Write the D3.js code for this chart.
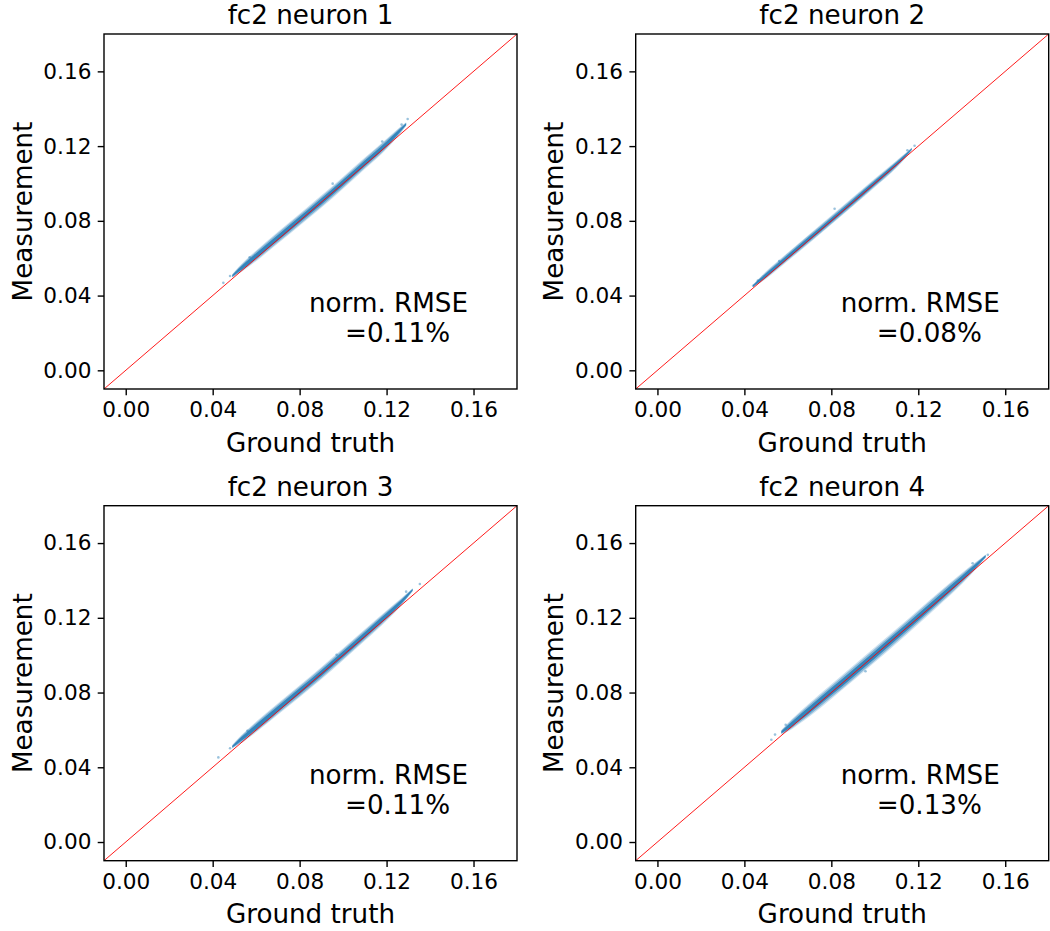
<!DOCTYPE html>
<html>
<head>
<meta charset="utf-8">
<script src="https://cdn.jsdelivr.net/npm/d3@7"></script>
<style>
  body { margin: 0; background: #fff; }
  svg { display: block; font-family: "DejaVu Sans", sans-serif; }
</style>
</head>
<body>
<script>
// titles and annotation
var titles = ["fc2 neuron 1", "fc2 neuron 2", "fc2 neuron 3", "fc2 neuron 4"];
var rmseText = ["=0.11%", "=0.08%", "=0.11%", "=0.13%"];
var ticks = [0, 0.04, 0.08, 0.12, 0.16];

var gt1 = [0.049, 0.052, 0.055, 0.060, 0.070, 0.080, 0.090, 0.100, 0.110, 0.120, 0.125, 0.129];
var mid1 = [0.0505, 0.0536, 0.0565, 0.0613, 0.0710, 0.0806, 0.0903, 0.1004, 0.1108, 0.1212, 0.1270, 0.1318];
var spread1 = [0.0008, 0.0016, 0.0021, 0.0025, 0.0027, 0.0028, 0.0029, 0.0028, 0.0027, 0.0024, 0.0018, 0.0008];

var gt2 = [0.044, 0.047, 0.050, 0.060, 0.070, 0.080, 0.090, 0.100, 0.110, 0.114, 0.117];
var mid2 = [0.0452, 0.0481, 0.0510, 0.0608, 0.0706, 0.0804, 0.0903, 0.1003, 0.1104, 0.1148, 0.1185];
var spread2 = [0.0007, 0.0013, 0.0017, 0.0020, 0.0021, 0.0021, 0.0021, 0.0020, 0.0017, 0.0012, 0.0006];

var gt3 = [0.049, 0.052, 0.055, 0.060, 0.070, 0.080, 0.090, 0.100, 0.110, 0.120, 0.127, 0.132];
var mid3 = [0.0510, 0.0540, 0.0568, 0.0616, 0.0712, 0.0807, 0.0904, 0.1005, 0.1108, 0.1212, 0.1288, 0.1350];
var spread3 = [0.0008, 0.0016, 0.0021, 0.0025, 0.0027, 0.0028, 0.0029, 0.0028, 0.0027, 0.0024, 0.0017, 0.0007];

var gt4 = [0.057, 0.060, 0.065, 0.070, 0.080, 0.090, 0.100, 0.110, 0.120, 0.130, 0.140, 0.146, 0.151];
var mid4 = [0.0588, 0.0614, 0.0661, 0.0708, 0.0805, 0.0903, 0.1002, 0.1102, 0.1204, 0.1307, 0.1410, 0.1474, 0.1530];
var spread4 = [0.0010, 0.0020, 0.0027, 0.0031, 0.0034, 0.0035, 0.0035, 0.0034, 0.0033, 0.0031, 0.0026, 0.0018, 0.0008];

// stray points outside the dense cloud
var strayGt1 = [0.0449, 0.0480, 0.0570, 0.0952, 0.1180, 0.1269, 0.1297];
var strayMeas1 = [0.0468, 0.0505, 0.0605, 0.0999, 0.1225, 0.1315, 0.1345];
var strayGt2 = [0.0440, 0.0462, 0.0560, 0.0815, 0.1150, 0.1183];
var strayMeas2 = [0.0453, 0.0480, 0.0585, 0.0865, 0.1178, 0.1202];
var strayGt3 = [0.0426, 0.0480, 0.0560, 0.0970, 0.1290, 0.1353];
var strayMeas3 = [0.0453, 0.0502, 0.0595, 0.1002, 0.1340, 0.1381];
var strayGt4 = [0.0524, 0.0541, 0.0590, 0.0957, 0.1450, 0.1520];
var strayMeas4 = [0.0547, 0.0575, 0.0628, 0.0914, 0.1492, 0.1537];

var bands = [[gt1, mid1, spread1], [gt2, mid2, spread2], [gt3, mid3, spread3], [gt4, mid4, spread4]];
var strays = [[strayGt1, strayMeas1], [strayGt2, strayMeas2], [strayGt3, strayMeas3], [strayGt4, strayMeas4]];

var width = 1050, height = 931;
var W = 413, H = 355;
var lefts = [104, 635.7], tops = [34, 505.7];
var BLUE = "#1f77b4";

var svg = d3.select("body").append("svg")
  .attr("width", width)
  .attr("height", height);

var x = d3.scaleLinear().domain([-0.01, 0.18]).range([0, W]);
var y = d3.scaleLinear().domain([-0.01, 0.18]).range([H, 0]);

titles.forEach(function(title, i){
  var g = svg.append("g")
    .attr("transform", "translate(" + lefts[i % 2] + "," + tops[Math.floor(i / 2)] + ")");

  g.append("clipPath").attr("id", "clip" + i)
    .append("rect").attr("width", W).attr("height", H);

  var plot = g.append("g").attr("clip-path", "url(#clip" + i + ")");

  var b = bands[i];
  var rows = b[0].map(function(v, k){ return { gt: v, m: b[1][k], s: b[2][k] }; });

  // cloud as layered envelopes, outer ones lighter
  [[1.15, 0.22], [0.9, 0.4], [0.55, 0.8]].forEach(function(layer){
    var area = d3.area()
      .x(function(d){ return x(d.gt); })
      .y0(function(d){ return y(d.m - d.s * layer[0]); })
      .y1(function(d){ return y(d.m + d.s * layer[0]); })
      .curve(d3.curveMonotoneX);
    plot.append("path")
      .attr("d", area(rows))
      .attr("fill", BLUE)
      .attr("fill-opacity", layer[1]);
  });

  var st = strays[i];
  plot.selectAll("circle.stray").data(st[0]).enter().append("circle")
    .attr("class", "stray")
    .attr("cx", function(d){ return x(d); })
    .attr("cy", function(d, k){ return y(st[1][k]); })
    .attr("r", 1.3)
    .attr("fill", BLUE)
    .attr("fill-opacity", 0.45);

  // identity line
  plot.append("line")
    .attr("x1", x(-0.01)).attr("y1", y(-0.01))
    .attr("x2", x(0.18)).attr("y2", y(0.18))
    .attr("stroke", "#ff0000")
    .attr("stroke-width", 0.9);

  var xAxis = d3.axisBottom(x).tickValues(ticks).tickFormat(d3.format(".2f"))
    .tickSize(6.3).tickPadding(6.3).tickSizeOuter(0);
  var yAxis = d3.axisLeft(y).tickValues(ticks).tickFormat(d3.format(".2f"))
    .tickSize(6.3).tickPadding(6.3).tickSizeOuter(0);

  var gx = g.append("g").attr("transform", "translate(0," + H + ")").call(xAxis);
  var gy = g.append("g").call(yAxis);
  [gx, gy].forEach(function(a){
    a.select(".domain").remove();
    a.selectAll(".tick line").attr("stroke", "#000").attr("stroke-width", 1.4);
    a.selectAll(".tick text").attr("font-size", "21.6px").attr("fill", "#000")
      .attr("font-family", "DejaVu Sans, sans-serif");
  });

  g.append("rect")
    .attr("width", W).attr("height", H)
    .attr("fill", "none").attr("stroke", "#000").attr("stroke-width", 1.4);

  g.append("text")
    .attr("x", W / 2).attr("y", -10)
    .attr("text-anchor", "middle")
    .attr("font-size", "26.2px")
    .text(title);

  g.append("text")
    .attr("x", W / 2).attr("y", H + 62.7)
    .attr("text-anchor", "middle")
    .attr("font-size", "26.2px")
    .text("Ground truth");

  g.append("text")
    .attr("transform", "translate(-72.3," + (H / 2) + ") rotate(-90)")
    .attr("text-anchor", "middle")
    .attr("font-size", "26.2px")
    .text("Measurement");

  g.append("text")
    .attr("x", 205).attr("y", 278)
    .attr("font-size", "26.2px")
    .text("norm. RMSE");
  g.append("text")
    .attr("x", 241).attr("y", 308)
    .attr("font-size", "26.2px")
    .text(rmseText[i]);
});
</script>
</body>
</html>
